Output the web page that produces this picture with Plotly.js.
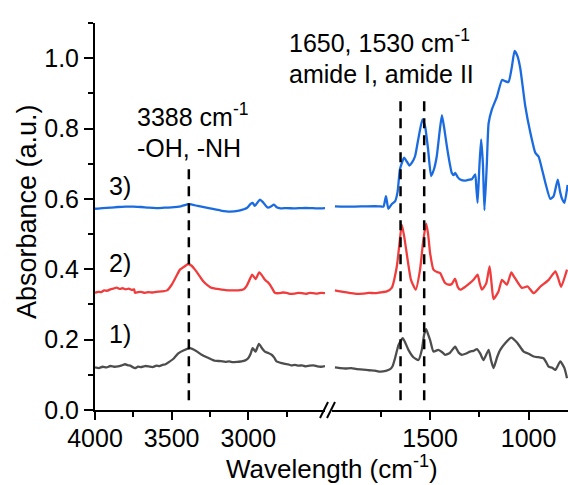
<!DOCTYPE html>
<html>
<head>
<meta charset="utf-8">
<script src="https://cdn.plot.ly/plotly-3.0.1.min.js"></script>
<style>html,body{margin:0;padding:0;background:#fff;}#chart{width:568px;height:485px;}</style>
</head>
<body>
<div id="chart"></div>
<script>
// ---- Data ----
// Series 1) gray, left segment (4000-2500 cm-1)
const s1LeftX = [4000, 3975, 3950, 3925, 3900, 3875, 3850, 3825, 3804, 3785, 3770, 3755, 3739, 3720, 3700, 3675, 3650, 3625, 3600, 3580, 3560, 3540, 3522, 3490, 3457, 3420, 3381, 3340, 3305, 3260, 3218, 3180, 3150, 3125, 3100, 3070, 3044, 3020, 3001, 2985, 2972, 2953, 2931, 2910, 2892, 2870, 2848, 2830, 2816, 2780, 2760, 2740, 2720, 2696, 2670, 2650, 2625, 2600, 2575, 2550, 2525, 2500];
const s1LeftY = [0.121, 0.119, 0.123, 0.121, 0.125, 0.123, 0.124, 0.127, 0.130, 0.127, 0.126, 0.122, 0.119, 0.123, 0.122, 0.125, 0.124, 0.122, 0.126, 0.125, 0.128, 0.130, 0.135, 0.145, 0.161, 0.170, 0.176, 0.168, 0.157, 0.148, 0.140, 0.139, 0.137, 0.138, 0.136, 0.137, 0.138, 0.141, 0.147, 0.160, 0.176, 0.166, 0.188, 0.175, 0.166, 0.162, 0.157, 0.148, 0.138, 0.133, 0.131, 0.130, 0.127, 0.128, 0.126, 0.127, 0.124, 0.126, 0.127, 0.124, 0.123, 0.125];
// Series 1) gray, right segment (2000-800 cm-1)
const s1RightX = [1983, 1955, 1930, 1900, 1873, 1840, 1810, 1780, 1754, 1725, 1703, 1690, 1678, 1660, 1639, 1625, 1610, 1585, 1559, 1542, 1530, 1520, 1510, 1500, 1483, 1458, 1440, 1424, 1400, 1373, 1355, 1339, 1320, 1297, 1280, 1262, 1245, 1229, 1203, 1190, 1178, 1160, 1144, 1119, 1088, 1059, 1025, 1000, 974, 950, 924, 910, 898, 880, 864, 839, 818, 805];
const s1RightY = [0.121, 0.119, 0.118, 0.119, 0.116, 0.115, 0.113, 0.112, 0.109, 0.111, 0.116, 0.125, 0.147, 0.185, 0.204, 0.190, 0.171, 0.150, 0.142, 0.171, 0.215, 0.230, 0.215, 0.199, 0.166, 0.171, 0.165, 0.157, 0.162, 0.180, 0.163, 0.157, 0.160, 0.166, 0.168, 0.173, 0.160, 0.142, 0.171, 0.140, 0.119, 0.150, 0.171, 0.190, 0.206, 0.192, 0.166, 0.160, 0.152, 0.150, 0.147, 0.135, 0.123, 0.120, 0.114, 0.138, 0.119, 0.090];

// Series 2) red
const s2LeftX = [4000, 3980, 3960, 3940, 3920, 3900, 3880, 3859, 3840, 3820, 3800, 3780, 3760, 3745, 3739, 3720, 3700, 3675, 3650, 3625, 3600, 3565, 3530, 3500, 3470, 3446, 3420, 3392, 3370, 3348, 3320, 3294, 3265, 3240, 3200, 3175, 3150, 3125, 3100, 3066, 3030, 3011, 2990, 2975, 2953, 2929, 2910, 2892, 2875, 2859, 2840, 2827, 2800, 2775, 2750, 2725, 2700, 2675, 2650, 2625, 2600, 2575, 2550, 2525, 2500];
const s2LeftY = [0.333, 0.336, 0.335, 0.340, 0.339, 0.343, 0.345, 0.348, 0.344, 0.346, 0.343, 0.345, 0.341, 0.343, 0.333, 0.335, 0.336, 0.333, 0.335, 0.334, 0.336, 0.337, 0.340, 0.356, 0.380, 0.399, 0.407, 0.415, 0.410, 0.399, 0.382, 0.366, 0.354, 0.347, 0.344, 0.342, 0.341, 0.340, 0.340, 0.340, 0.343, 0.353, 0.372, 0.385, 0.372, 0.391, 0.382, 0.370, 0.364, 0.356, 0.342, 0.333, 0.332, 0.334, 0.333, 0.330, 0.331, 0.333, 0.332, 0.330, 0.333, 0.332, 0.331, 0.333, 0.332];
const s2RightX = [1983, 1955, 1930, 1900, 1873, 1840, 1810, 1780, 1754, 1720, 1695, 1669, 1656, 1644, 1632, 1619, 1597, 1573, 1551, 1535, 1520, 1510, 1500, 1483, 1465, 1449, 1424, 1402, 1390, 1373, 1360, 1347, 1322, 1297, 1280, 1259, 1248, 1237, 1215, 1198, 1188, 1178, 1153, 1135, 1110, 1088, 1075, 1059, 1034, 1005, 974, 940, 898, 864, 850, 835, 805];
const s2RightY = [0.340, 0.337, 0.335, 0.332, 0.330, 0.331, 0.333, 0.332, 0.334, 0.337, 0.347, 0.408, 0.470, 0.527, 0.495, 0.446, 0.370, 0.342, 0.399, 0.480, 0.530, 0.500, 0.446, 0.399, 0.392, 0.389, 0.361, 0.356, 0.358, 0.373, 0.350, 0.342, 0.350, 0.361, 0.370, 0.385, 0.360, 0.342, 0.360, 0.408, 0.360, 0.315, 0.337, 0.370, 0.356, 0.391, 0.380, 0.366, 0.347, 0.351, 0.332, 0.351, 0.370, 0.394, 0.375, 0.350, 0.399];

// Series 3) blue
const s3LeftX = [4000, 3950, 3900, 3850, 3800, 3750, 3700, 3650, 3600, 3550, 3500, 3440, 3388, 3330, 3250, 3180, 3120, 3060, 3010, 2985, 2972, 2957, 2940, 2924, 2905, 2885, 2872, 2850, 2833, 2815, 2790, 2750, 2700, 2650, 2600, 2550, 2500];
const s3LeftY = [0.572, 0.574, 0.575, 0.577, 0.578, 0.578, 0.577, 0.575, 0.574, 0.575, 0.576, 0.579, 0.585, 0.580, 0.573, 0.567, 0.564, 0.567, 0.574, 0.586, 0.589, 0.580, 0.590, 0.598, 0.591, 0.580, 0.575, 0.579, 0.584, 0.576, 0.573, 0.574, 0.573, 0.574, 0.574, 0.573, 0.574];
const s3RightX = [1983, 1900, 1820, 1760, 1737, 1724, 1712, 1695, 1678, 1665, 1653, 1632, 1617, 1605, 1590, 1576, 1560, 1539, 1525, 1510, 1495, 1480, 1466, 1452, 1440, 1428, 1415, 1400, 1390, 1380, 1373, 1360, 1347, 1320, 1300, 1288, 1271, 1265, 1259, 1250, 1241, 1232, 1224, 1212, 1203, 1186, 1161, 1135, 1120, 1102, 1085, 1071, 1056, 1042, 1017, 991, 966, 949, 930, 915, 890, 873, 852, 840, 830, 818, 802];
const s3RightY = [0.579, 0.578, 0.579, 0.579, 0.578, 0.608, 0.572, 0.585, 0.593, 0.620, 0.684, 0.717, 0.705, 0.695, 0.705, 0.722, 0.770, 0.826, 0.805, 0.740, 0.665, 0.685, 0.722, 0.790, 0.838, 0.800, 0.750, 0.700, 0.674, 0.668, 0.674, 0.662, 0.655, 0.652, 0.655, 0.656, 0.670, 0.630, 0.589, 0.690, 0.769, 0.700, 0.568, 0.700, 0.815, 0.855, 0.890, 0.938, 0.935, 0.932, 0.975, 1.021, 1.005, 0.970, 0.864, 0.788, 0.731, 0.720, 0.680, 0.646, 0.600, 0.608, 0.655, 0.620, 0.600, 0.589, 0.640];

// Marker lines (cm-1)
const markOH = 3388;
const markAmide = [1650, 1530];

// Tick labels
const leftTicks = [4000, 3500, 3000];
const leftMinor = [3750, 3250, 2750];
const rightTicks = [1500, 1000];
const rightMinor = [1750, 1250];

const FONT = 'Liberation Sans, Arial, Helvetica, sans-serif';
const colors = {s1: '#4d4d4d', s2: '#f03c3c', s3: '#1a6be0'};

function tr(x, y, color, axis) {
  return {x: x, y: y, xaxis: axis, yaxis: 'y', type: 'scatter', mode: 'lines',
    line: {color: color, width: 2.3, shape: 'spline', smoothing: 0.5}, hoverinfo: 'skip', showlegend: false};
}
const data = [
  tr(s1LeftX, s1LeftY, colors.s1, 'x'), tr(s1RightX, s1RightY, colors.s1, 'x2'),
  tr(s2LeftX, s2LeftY, colors.s2, 'x'), tr(s2RightX, s2RightY, colors.s2, 'x2'),
  tr(s3LeftX, s3LeftY, colors.s3, 'x'), tr(s3RightX, s3RightY, colors.s3, 'x2')
];

const axisCommon = {
  showline: true, linecolor: '#000', linewidth: 2, mirror: false,
  ticks: 'outside', ticklen: 8, tickwidth: 2, tickcolor: '#000',
  showgrid: false, zeroline: false, tickfont: {family: FONT, size: 25, color: '#000'},
  fixedrange: true
};

const dashShape = (xref, x, y0, y1) => ({type: 'line', xref: xref, yref: 'y', x0: x, x1: x, y0: y0, y1: y1,
  line: {color: '#000', width: 2.5, dash: '10px,7px'}});

const shapes = [
  dashShape('x', markOH, 0.028, 0.684),
  dashShape('x2', markAmide[0], 0.028, 0.883),
  dashShape('x2', markAmide[1], 0.028, 0.883),
  // axis break marks "//"
  {type: 'line', xref: 'paper', yref: 'paper', x0: (320 - 95) / 473, x1: (328 - 95) / 473, y0: (410 - 418) / 387, y1: (410 - 402) / 387, line: {color: '#000', width: 2}},
  {type: 'line', xref: 'paper', yref: 'paper', x0: (327 - 95) / 473, x1: (335 - 95) / 473, y0: (410 - 418) / 387, y1: (410 - 402) / 387, line: {color: '#000', width: 2}}
];

const annFont = {family: FONT, size: 25, color: '#000'};
const annotations = [
  {xref: 'x', yref: 'y', x: 3739, y: 0.838, text: '3388 cm<sup>-1</sup>', showarrow: false, xanchor: 'left', yanchor: 'middle', font: annFont},
  {xref: 'x', yref: 'y', x: 3739, y: 0.746, text: '-OH, -NH', showarrow: false, xanchor: 'left', yanchor: 'middle', font: annFont},
  {xref: 'x', yref: 'y', x: 2748, y: 1.048, text: '1650, 1530 cm<sup>-1</sup>', showarrow: false, xanchor: 'left', yanchor: 'middle', font: annFont},
  {xref: 'x', yref: 'y', x: 2748, y: 0.954, text: 'amide I, amide II', showarrow: false, xanchor: 'left', yanchor: 'middle', font: annFont},
  {xref: 'x', yref: 'y', x: 3924, y: 0.636, text: '3)', showarrow: false, xanchor: 'left', yanchor: 'middle', font: annFont},
  {xref: 'x', yref: 'y', x: 3924, y: 0.419, text: '2)', showarrow: false, xanchor: 'left', yanchor: 'middle', font: annFont},
  {xref: 'x', yref: 'y', x: 3924, y: 0.217, text: '1)', showarrow: false, xanchor: 'left', yanchor: 'middle', font: annFont},
  // axis titles
  {xref: 'paper', yref: 'paper', x: 0.5, y: (410 - 467) / 387, text: 'Wavelength (cm<sup>-1</sup>)', showarrow: false, xanchor: 'center', yanchor: 'middle', font: {family: FONT, size: 26, color: '#000'}},
  {xref: 'paper', yref: 'paper', x: (27 - 95) / 473, y: (410 - 212) / 387, text: 'Absorbance (a.u.)', textangle: -90, showarrow: false, xanchor: 'center', yanchor: 'middle', font: {family: FONT, size: 27, color: '#000'}}
];

const layout = {
  width: 568, height: 485,
  margin: {l: 95, r: 0, t: 23, b: 75, pad: 0},
  paper_bgcolor: '#fff', plot_bgcolor: '#fff',
  font: {family: FONT, color: '#000'},
  showlegend: false,
  xaxis: Object.assign({}, axisCommon, {domain: [0, 230 / 473], range: [4000, 2500], anchor: 'y',
    tickmode: 'array', tickvals: leftTicks, ticklabelstandoff: -3,
    minor: {tickmode: 'array', tickvals: leftMinor, ticks: 'outside', ticklen: 5, tickwidth: 2, tickcolor: '#000', showgrid: false}}),
  xaxis2: Object.assign({}, axisCommon, {domain: [236.6 / 473, 1], range: [2000, 800], anchor: 'y',
    tickmode: 'array', tickvals: rightTicks, ticklabelstandoff: -3,
    minor: {tickmode: 'array', tickvals: rightMinor, ticks: 'outside', ticklen: 5, tickwidth: 2, tickcolor: '#000', showgrid: false}}),
  yaxis: Object.assign({}, axisCommon, {range: [0, 1.1], tickmode: 'linear', tick0: 0, dtick: 0.2, tickformat: '.1f', ticklen: 9,
    minor: {tickmode: 'linear', tick0: 0, dtick: 0.1, ticks: 'outside', ticklen: 5, tickwidth: 2, tickcolor: '#000', showgrid: false}}),
  shapes: shapes,
  annotations: annotations
};

Plotly.newPlot('chart', data, layout, {staticPlot: true, displayModeBar: false});
</script>
</body>
</html>
